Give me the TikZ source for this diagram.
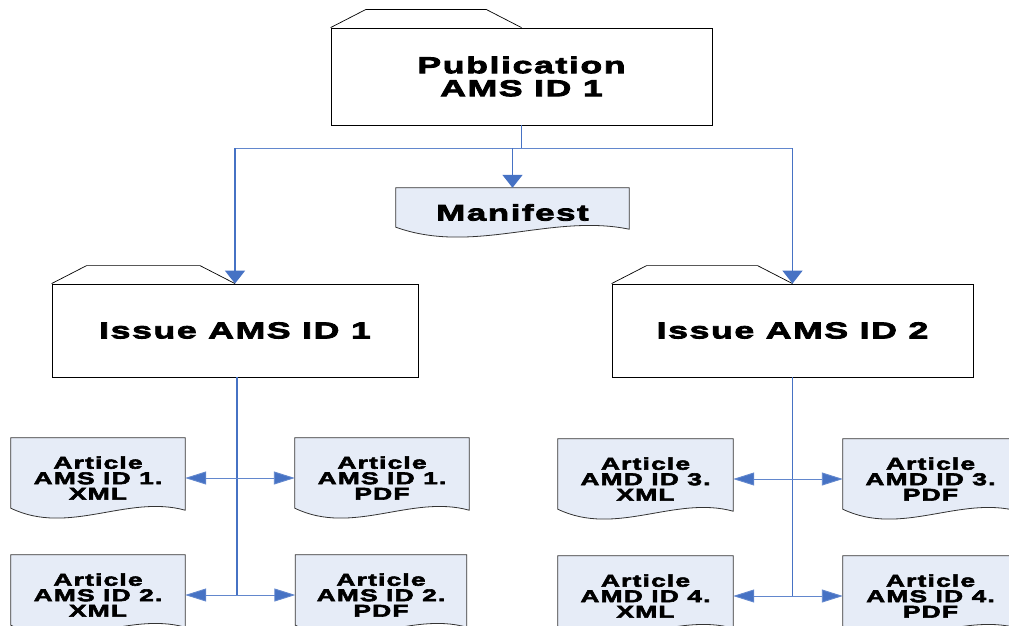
\documentclass[tikz,border=0pt]{standalone}
\usepackage{fontspec}
\newfontfamily\dfont{Liberation Sans Bold}[FakeStretch=1.55,LetterSpace=7,FakeBold=3.5]
\usetikzlibrary{arrows.meta,calc}
\pgfdeclarelayer{bg}
\pgfsetlayers{bg,main}
\definecolor{lnblue}{RGB}{70,114,196}
\definecolor{docfill}{RGB}{230,236,247}
\tikzset{
  folder/.style={draw=black, line width=0.8pt, fill=white, inner sep=0pt, align=center,
    font={\dfont\fontsize{23}{23}\selectfont}},
  issuefont/.style={font={\dfont\fontsize{23}{24}\selectfont}},
  tabline/.style={draw=black, line width=0.7pt},
  docnode/.style={draw=none, inner sep=0pt, align=center, minimum width=174pt, minimum height=80pt,
    font={\dfont\fontsize{17}{15.5}\selectfont}},
  docline/.style={draw=black!80, line width=0.8pt, fill=docfill},
  vline/.style={draw=lnblue, line width=1.6pt},
  hline/.style={draw=lnblue!85, line width=0.9pt},
  varr/.style={vline, -{Triangle[length=13pt,width=20pt]}},
  harr/.style={hline, -{Triangle[length=21pt,width=13pt,fill=lnblue]}},
}
\newcommand\docshape[1]{%
  \begin{pgfonlayer}{bg}
  \draw[docline] (#1.north west) -- (#1.north east) -- ([yshift=8pt]#1.south east)
    .. controls ($(#1.south east)!0.333!(#1.south west)+(0,-24)$) and ($(#1.south east)!0.667!(#1.south west)+(0,18)$)
    .. ([yshift=10pt]#1.south west) -- cycle;
  \end{pgfonlayer}}
\newcommand\foldertab[1]{%
  \draw[tabline] (#1.north west) -- ([xshift=35pt,yshift=18pt]#1.north west)
    -- ([xshift=-35pt,yshift=18pt]#1.north) -- (#1.north);}
\begin{document}
\begin{tikzpicture}[x=1pt,y=-1pt]
\useasboundingbox (0,0) rectangle (1009,626);
\clip (0,0) rectangle (1009,626);

% folders
\node[folder, minimum width=381pt, minimum height=97pt] (pub) at (521.5,76.5) {Publication\\AMS ID 1};
\foldertab{pub}
\node[folder, issuefont, minimum width=366pt, minimum height=93pt] (iss1) at (235,330.5) {Issue AMS ID 1};
\foldertab{iss1}
\node[folder, issuefont, minimum width=361pt, minimum height=93pt] (iss2) at (792.5,330.5) {Issue AMS ID 2};
\foldertab{iss2}

% documents
\node[docnode, minimum width=233pt, minimum height=49pt, font={\dfont\fontsize{22.5}{23}\selectfont}] (man) at (512.5,212.5) {Manifest};
\docshape{man}
\node[docnode] (a1x) at (98,478) {Article\\AMS ID 1.\\XML};
\docshape{a1x}
\node[docnode] (a1p) at (382,478) {Article\\AMS ID 1.\\PDF};
\docshape{a1p}
\node[docnode] (a2x) at (98,595) {Article\\AMS ID 2.\\XML};
\docshape{a2x}
\node[docnode, minimum width=171pt] (a2p) at (381,595) {Article\\AMS ID 2.\\PDF};
\docshape{a2p}
\node[docnode, minimum width=175pt] (a3x) at (645.5,479) {Article\\AMD ID 3.\\XML};
\docshape{a3x}
\node[docnode, minimum width=175pt] (a3p) at (930.5,479) {Article\\AMD ID 3.\\PDF};
\docshape{a3p}
\node[docnode, minimum width=175pt] (a4x) at (645.5,596) {Article\\AMD ID 4.\\XML};
\docshape{a4x}
\node[docnode, minimum width=175pt] (a4p) at (930.5,596) {Article\\AMS ID 4.\\PDF};
\docshape{a4p}

% top connectors
\coordinate (bus) at (521.5,148);
\draw[vline] (pub.south) -- (bus);
\draw[hline] (bus -| iss1.north) -- (bus -| iss2.north);
\draw[varr] (bus -| iss1.north) -- (iss1.north);
\draw[varr] (bus -| iss2.north) -- (iss2.north);
\draw[varr] (bus -| man.north) -- (man.north);

% issue 1 trunk
\draw[vline] ([xshift=2pt]iss1.south) -- ([xshift=2pt]iss1.south |- a2x.east);
\draw[harr] ([xshift=2pt]iss1.south |- a1x.east) -- (a1x.east);
\draw[harr] ([xshift=2pt]iss1.south |- a1p.west) -- (a1p.west);
\draw[harr] ([xshift=2pt]iss1.south |- a2x.east) -- (a2x.east);
\draw[harr] ([xshift=2pt]iss1.south |- a2p.west) -- (a2p.west);

% issue 2 trunk
\draw[vline] (iss2.south) -- (iss2.south |- a4x.east);
\draw[harr] (iss2.south |- a3x.east) -- (a3x.east);
\draw[harr] (iss2.south |- a3p.west) -- (a3p.west);
\draw[harr] (iss2.south |- a4x.east) -- (a4x.east);
\draw[harr] (iss2.south |- a4p.west) -- (a4p.west);
\end{tikzpicture}
\end{document}
